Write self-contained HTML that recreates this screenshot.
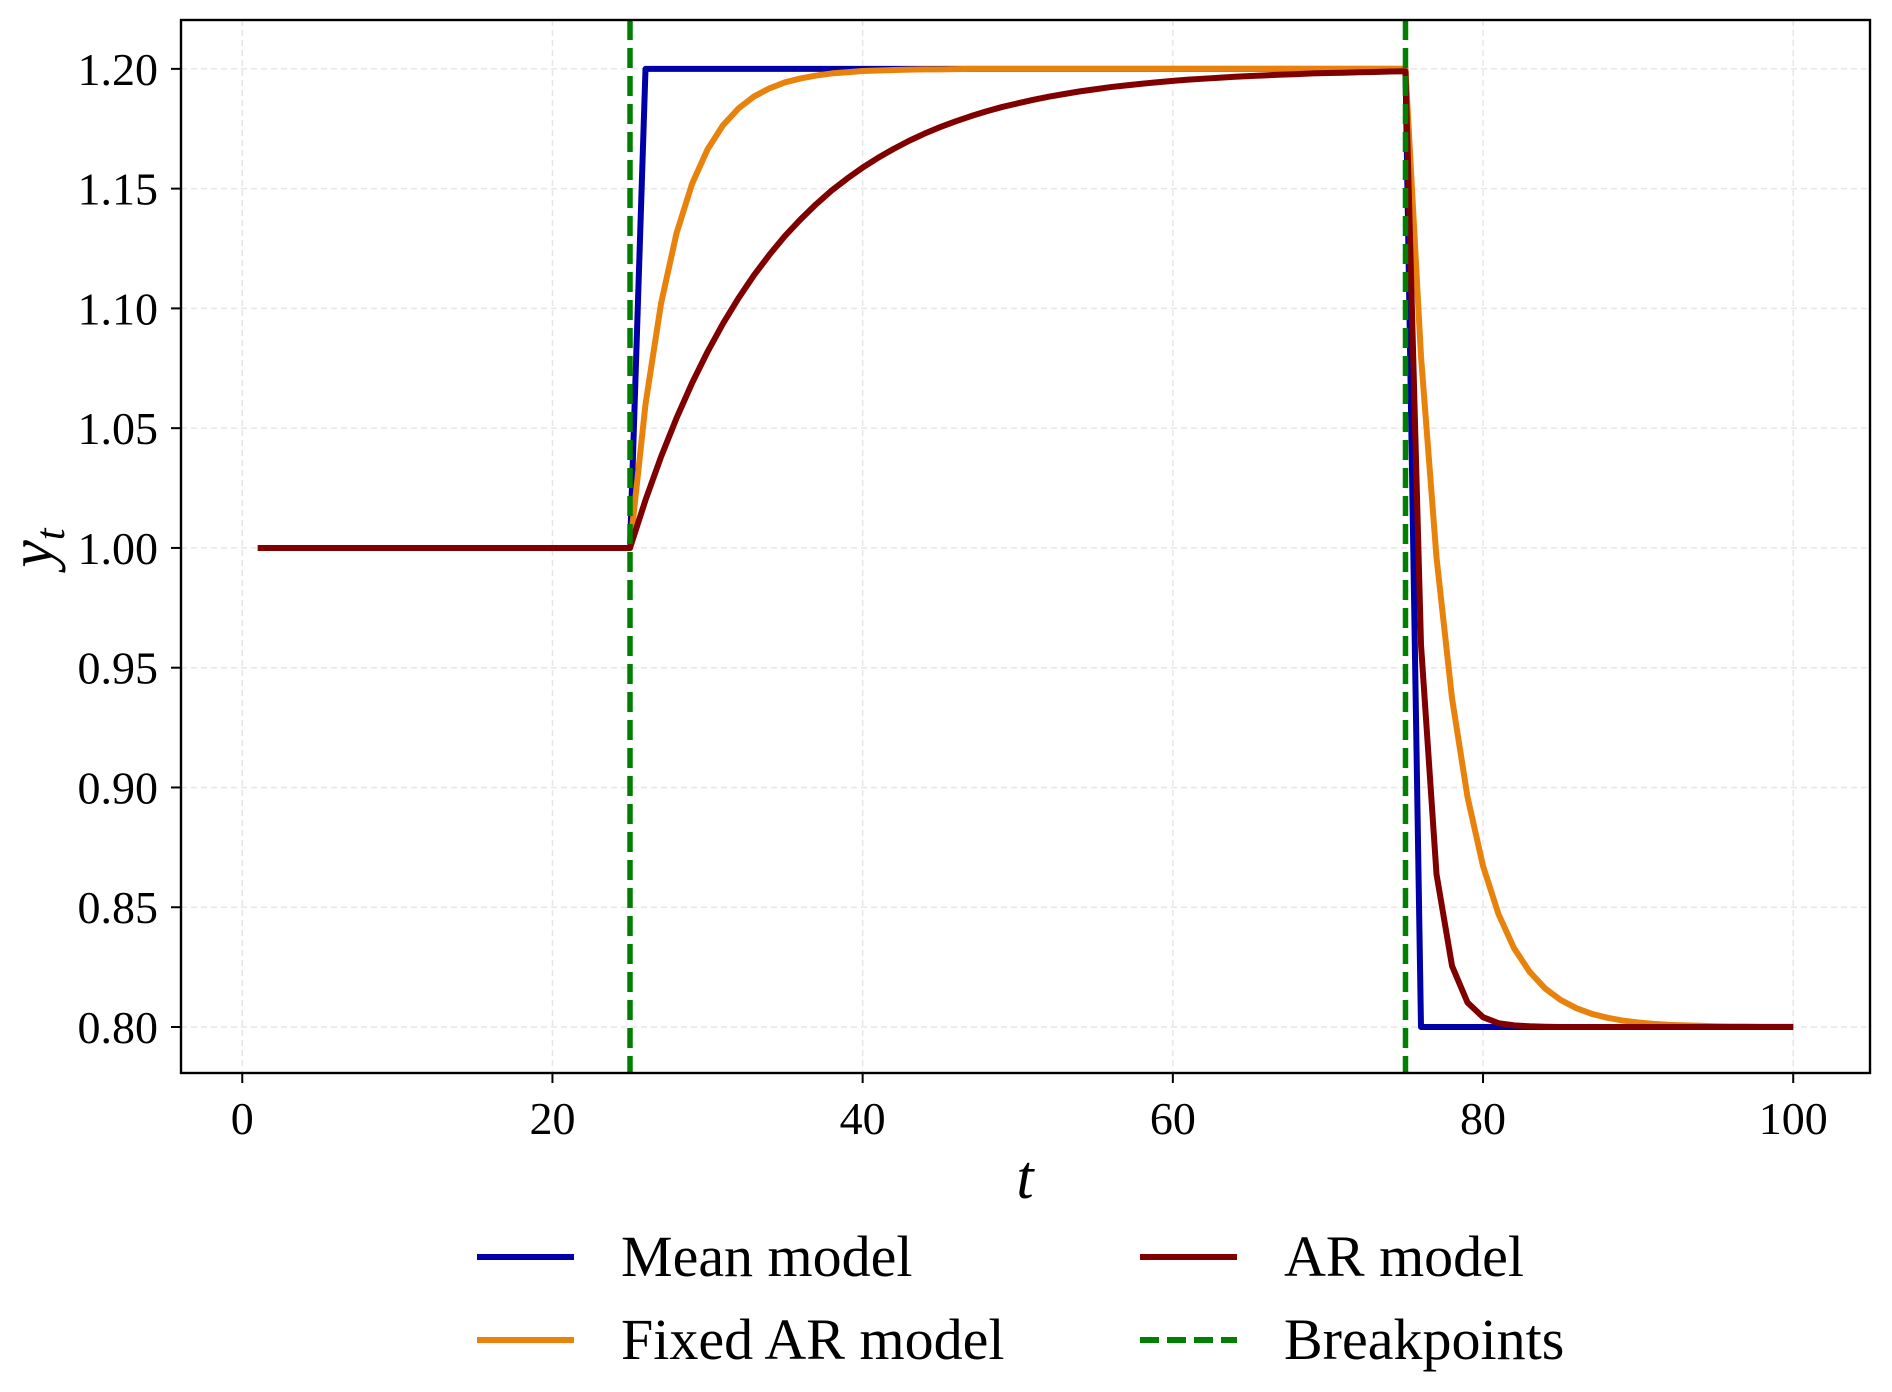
<!DOCTYPE html>
<html><head><meta charset="utf-8"><style>
html,body{margin:0;padding:0;background:#fff;}
svg{display:block;font-family:"Liberation Serif","DejaVu Serif",serif;}
</style></head><body>
<svg id="chart" width="1892" height="1392" viewBox="0 0 1892 1392" xmlns="http://www.w3.org/2000/svg">
<rect x="0" y="0" width="1892" height="1392" fill="#fff"/>
<g id="grid"></g>
<g id="series"></g>
<rect x="181" y="20" width="1689" height="1053" fill="none" stroke="#000" stroke-width="2.4"/>
<g id="ticks"></g>
<text x="1025" y="1198" font-size="62" font-style="italic" text-anchor="middle">t</text>
<text transform="translate(52,548) rotate(-90)" font-size="62" font-style="italic" text-anchor="middle">y<tspan font-size="42" dy="12">t</tspan></text>
<g id="legend"></g>
</svg>
<script>
const xTicks = [0, 20, 40, 60, 80, 100];
const yTicks = [0.80, 0.85, 0.90, 0.95, 1.00, 1.05, 1.10, 1.15, 1.20];
const breakpoints = [25, 75];
const meanModel = [1,1,1,1,1,1,1,1,1,1,1,1,1,1,1,1,1,1,1,1,1,1,1,1,1,
1.2,1.2,1.2,1.2,1.2,1.2,1.2,1.2,1.2,1.2,1.2,1.2,1.2,1.2,1.2,1.2,1.2,1.2,1.2,1.2,1.2,1.2,1.2,1.2,1.2,
1.2,1.2,1.2,1.2,1.2,1.2,1.2,1.2,1.2,1.2,1.2,1.2,1.2,1.2,1.2,1.2,1.2,1.2,1.2,1.2,1.2,1.2,1.2,1.2,1.2,
0.8,0.8,0.8,0.8,0.8,0.8,0.8,0.8,0.8,0.8,0.8,0.8,0.8,0.8,0.8,0.8,0.8,0.8,0.8,0.8,0.8,0.8,0.8,0.8,0.8];
const fixedArModel = [1,1,1,1,1,1,1,1,1,1,1,1,1,1,1,1,1,1,1,1,1,1,1,1,1,
1.0600,1.1020,1.1314,1.1520,1.1664,1.1765,1.1835,1.1885,1.1919,1.1944,1.1960,1.1972,1.1981,1.1986,1.1991,1.1993,
1.1995,1.1997,1.1998,1.1998,1.1999,
1.2,1.2,1.2,1.2,1.2,1.2,1.2,1.2,1.2,1.2,1.2,1.2,1.2,1.2,1.2,1.2,1.2,1.2,1.2,1.2,1.2,1.2,1.2,1.2,1.2,1.2,1.2,1.2,1.2,
1.0800,0.9960,0.9372,0.8960,0.8672,0.8471,0.8329,0.8231,0.8161,0.8113,0.8079,0.8055,0.8039,0.8027,0.8019,0.8013,0.8009,0.8007,0.8005,0.8003,0.8002,0.8002,0.8001,0.8001,0.8001];
const arModel = [1,1,1,1,1,1,1,1,1,1,1,1,1,1,1,1,1,1,1,1,1,1,1,1,1,
1.0200,1.0380,1.0542,1.0688,1.0819,1.0937,1.1043,1.1139,1.1225,1.1303,
1.1372,1.1435,1.1492,1.1542,1.1588,1.1629,1.1666,1.1700,1.1730,1.1757,
1.1781,1.1803,1.1823,1.1841,1.1856,1.1871,1.1884,1.1895,1.1906,1.1915,
1.1924,1.1931,1.1938,1.1944,1.1950,1.1955,1.1959,1.1963,1.1967,1.1970,
1.1973,1.1976,1.1978,1.1981,1.1983,1.1984,1.1986,1.1987,1.1989,1.1990,
0.9596,0.8638,0.8255,0.8102,0.8041,0.8016,0.8007,0.8003,0.8001,0.8,0.8,0.8,0.8,0.8,0.8,0.8,0.8,0.8,0.8,0.8,0.8,0.8,0.8,0.8,0.8];

const NS = "http://www.w3.org/2000/svg";
const L = 181, R = 1870, T = 20, B = 1073;
const xMin = -3.95, xMax = 104.95, yMin = 0.7808, yMax = 1.2204;
function sx(v){ return L + (v - xMin) / (xMax - xMin) * (R - L); }
function sy(v){ return B - (v - yMin) / (yMax - yMin) * (B - T); }
function mk(tag, attrs, parent){ const e = document.createElementNS(NS, tag); for (const k in attrs) e.setAttribute(k, attrs[k]); parent.appendChild(e); return e; }

const grid = document.getElementById('grid');
const ticks = document.getElementById('ticks');
xTicks.forEach(v => {
  const g = mk('line', {x1: sx(v), x2: sx(v), y1: T, y2: B, stroke: '#e6e6e6', 'stroke-width': 1.5, 'stroke-dasharray': '6 4'}, grid);
  
  
  const t = mk('line', {x1: sx(v), x2: sx(v), y1: B, y2: B + 10, stroke: '#000', 'stroke-width': 2}, ticks);
  
  
  const lb = mk('text', {x: sx(v), y: 1134, 'font-size': 46, 'text-anchor': 'middle'}, ticks);
  lb.textContent = String(v);
  
  
});
yTicks.forEach(v => {
  const g = mk('line', {x1: L, x2: R, y1: sy(v), y2: sy(v), stroke: '#e6e6e6', 'stroke-width': 1.5, 'stroke-dasharray': '6 4'}, grid);
  
  
  const t = mk('line', {x1: L - 10, x2: L, y1: sy(v), y2: sy(v), stroke: '#000', 'stroke-width': 2}, ticks);
  
  
  const lb = mk('text', {x: 158, y: sy(v) + 16, 'font-size': 46, 'text-anchor': 'end'}, ticks);
  lb.textContent = v.toFixed(2);
  
  
});

const series = document.getElementById('series');
function pts(arr){ return arr.map((v, i) => sx(i + 1).toFixed(2) + ',' + sy(v).toFixed(2)).join(' '); }
const pMean = mk('polyline', {points: pts(meanModel), fill: 'none', stroke: '#0000a8', 'stroke-width': 6, 'stroke-linejoin': 'round'}, series);


const pFixed = mk('polyline', {points: pts(fixedArModel), fill: 'none', stroke: '#e8820c', 'stroke-width': 6, 'stroke-linejoin': 'round'}, series);


const pAr = mk('polyline', {points: pts(arModel), fill: 'none', stroke: '#800000', 'stroke-width': 6, 'stroke-linejoin': 'round'}, series);


breakpoints.forEach(b => {
  const l = mk('line', {x1: sx(b), x2: sx(b), y1: T, y2: B, stroke: '#008000', 'stroke-width': 5.5, 'stroke-dasharray': '20 8'}, series);
  
  
});

const legend = document.getElementById('legend');
const items = [
  {label: 'Mean model', color: '#0000a8', dash: null, x: 477, y: 1257, name: 'legend-mean-model'},
  {label: 'AR model', color: '#800000', dash: null, x: 1140, y: 1257, name: 'legend-ar-model'},
  {label: 'Fixed AR model', color: '#e8820c', dash: null, x: 477, y: 1340, name: 'legend-fixed-ar-model'},
  {label: 'Breakpoints', color: '#008000', dash: '19 8', x: 1140, y: 1340, name: 'legend-breakpoints'}
];
items.forEach(it => {
  const g = mk('g', {}, legend);
  
  
  const a = {x1: it.x, x2: it.x + 97, y1: it.y, y2: it.y, stroke: it.color, 'stroke-width': 6};
  if (it.dash) a['stroke-dasharray'] = it.dash;
  mk('line', a, g);
  const t = mk('text', {x: it.x + 144, y: it.y + 19, 'font-size': 58}, g);
  t.textContent = it.label;
});
</script>
</body></html>
